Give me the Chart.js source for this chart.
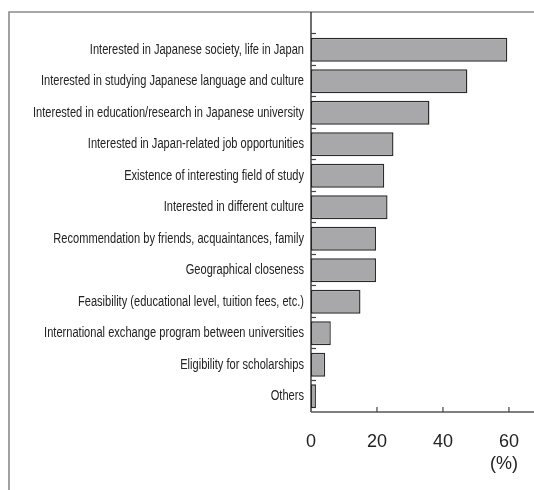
<!DOCTYPE html>
<html lang="en">
<head>
  <meta charset="UTF-8">
  <title>Reasons for studying in Japan</title>
  <script src="https://cdn.jsdelivr.net/npm/chart.js@4.4.1/dist/chart.umd.min.js"></script>
  <style>
    *{box-sizing:border-box}
    html,body{margin:0;padding:0;background:#fff}
    #wrap{position:relative;width:534px;height:490px}
  </style>
</head>
<body>
<div id="wrap"><canvas id="chart" width="534" height="490"></canvas></div>
<script>
/****************  DATA  ****************/
const reasons=[
  'Interested in Japanese society, life in Japan',
  'Interested in studying Japanese language and culture',
  'Interested in education/research in Japanese university',
  'Interested in Japan-related job opportunities',
  'Existence of interesting field of study',
  'Interested in different culture',
  'Recommendation by friends, acquaintances, family',
  'Geographical closeness',
  'Feasibility (educational level, tuition fees, etc.)',
  'International exchange program between universities',
  'Eligibility for scholarships',
  'Others'
];
const percents=[59.5,47.4,35.9,25.0,22.2,23.2,19.7,19.7,15.0,6.0,4.3,1.5];
const xTicks=[0,20,40,60];
const unitLabel='(%)';

const SANS='"Liberation Sans", Arial, Helvetica, sans-serif';
const LABEL_SIZE=14;
const LABEL_MAX_W=271;   // width of the longest label in the original (condensed face)

/****************  DECORATION PLUGIN  ****************/
// frame, axis line, inside tick marks and the unit label
const decor={
  id:'decor',
  afterDraw(chart){
    const {ctx,chartArea:a,scales:{x,y}}=chart;
    ctx.save();
    // outer frame (top + left)
    ctx.strokeStyle='#8a8a8a';ctx.lineWidth=1.6;
    ctx.beginPath();ctx.moveTo(9,490);ctx.lineTo(9,12);ctx.lineTo(534,12);ctx.stroke();
    // y axis line, runs up to the frame
    ctx.strokeStyle='#222';ctx.lineWidth=1.3;
    ctx.beginPath();ctx.moveTo(a.left,12);ctx.lineTo(a.left,a.bottom);ctx.stroke();
    // x axis line
    ctx.strokeStyle='#555';ctx.lineWidth=1.5;
    ctx.beginPath();ctx.moveTo(a.left,a.bottom);ctx.lineTo(a.right,a.bottom);ctx.stroke();
    // x ticks pointing up
    ctx.strokeStyle='#444';ctx.lineWidth=1.2;
    xTicks.slice(1).forEach(v=>{
      const px=x.getPixelForValue(v);
      ctx.beginPath();ctx.moveTo(px,a.bottom);ctx.lineTo(px,a.bottom-5);ctx.stroke();
    });
    // y ticks between categories, pointing right
    const step=(y.getPixelForValue(1)-y.getPixelForValue(0));
    reasons.forEach((r,i)=>{
      const py=Math.round(y.getPixelForValue(i)-step/2)-0.5;
      ctx.beginPath();ctx.moveTo(a.left,py);ctx.lineTo(a.left+5,py);ctx.stroke();
    });
    // unit label
    ctx.fillStyle='#222';ctx.font='18px '+SANS;
    ctx.textAlign='center';ctx.textBaseline='middle';
    ctx.fillText(unitLabel,x.getPixelForValue(60)-5,464);
    ctx.restore();
  }
};

/** squeeze the category labels horizontally so they look like a condensed face */
function condenseLabels(scale){
  if(scale._condensed) return;
  scale._condensed=true;
  const base=scale.drawLabels;
  scale._computeLabelArea=()=>undefined; // no clipping, the squeeze keeps them inside
  scale.drawLabels=function(area){
    const ctx=this.ctx;
    ctx.save();
    ctx.font=LABEL_SIZE+'px '+SANS;
    const w=Math.max(...reasons.map(r=>ctx.measureText(r).width));
    const k=Math.min(1,LABEL_MAX_W/w);
    const anchor=this.right-this.options.ticks.padding;
    ctx.translate(anchor,0);ctx.scale(k,1);ctx.translate(-anchor,0);
    base.call(this,area);
    ctx.restore();
  };
}

/****************  CHART  ****************/
new Chart(document.getElementById('chart'),{
  type:'bar',
  data:{labels:reasons,datasets:[{
    data:percents,
    backgroundColor:'#a8a8ab',
    borderColor:'#2a2a2a',
    borderWidth:1.4,
    borderSkipped:false,
    barPercentage:0.76,
    categoryPercentage:1
  }]},
  options:{
    indexAxis:'y',
    responsive:false,
    animation:false,
    layout:{padding:{top:34,right:0,bottom:0,left:0}},
    plugins:{legend:{display:false},tooltip:{enabled:false}},
    scales:{
      x:{
        min:0,max:67.6,
        afterBuildTicks:s=>{s.ticks=xTicks.map(v=>({value:v}));},
        afterFit:s=>{s.height=78;s.paddingLeft=0;s.paddingRight=0;},
        grid:{display:false,drawTicks:false},
        border:{display:false},
        ticks:{color:'#222',padding:19,font:{family:SANS,size:18}}
      },
      y:{
        afterFit:s=>{s.width=311;condenseLabels(s);},
        grid:{display:false,drawTicks:false},
        border:{display:false},
        ticks:{color:'#222',padding:7,autoSkip:false,font:{family:SANS,size:LABEL_SIZE}}
      }
    }
  },
  plugins:[decor]
});
</script>
</body>
</html>
